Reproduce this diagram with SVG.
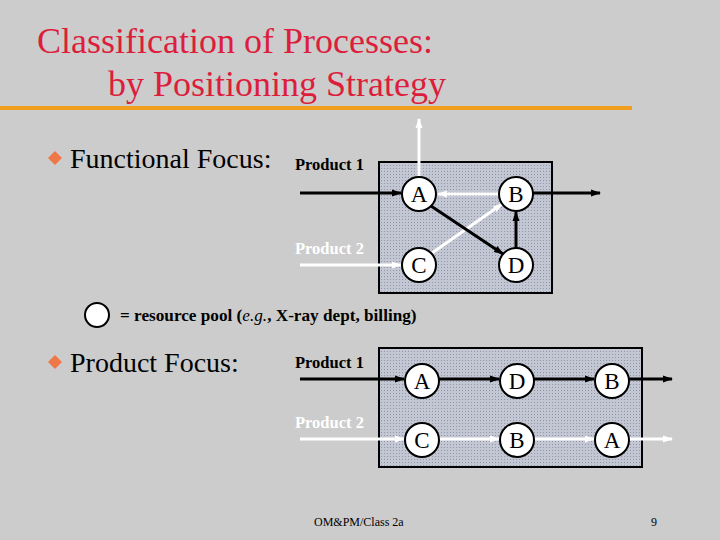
<svg xmlns="http://www.w3.org/2000/svg" width="720" height="540" viewBox="0 0 720 540" font-family="'Liberation Serif', serif">
<style>
.title{font-size:36px;fill:#dc1e3c}
.bul{font-size:28px;fill:#000}
.prod{font-size:16.5px;font-weight:bold}
.node circle{fill:#fff;stroke:#000;stroke-width:2}
.node text{font-size:23px;text-anchor:middle;fill:#000}
.box{fill:url(#dots);stroke:#000;stroke-width:2}
.blk{stroke:#000;stroke-width:3;fill:none}
.wht{stroke:#fff;stroke-width:3;fill:none}
.foot{font-size:12px;fill:#000}
</style>
<defs>
<pattern id="dots" width="3" height="3" patternUnits="userSpaceOnUse">
<rect width="3" height="3" fill="#c3c7d3"/>
<rect width="1" height="1" fill="#8f96a8"/>
</pattern>
<marker id="ab" markerWidth="10" markerHeight="8" refX="9" refY="4" orient="auto" markerUnits="userSpaceOnUse"><path d="M0,0.5 L10,4 L0,7.5 Z" fill="#000"/></marker>
<marker id="aw" markerWidth="10" markerHeight="8" refX="9" refY="4" orient="auto" markerUnits="userSpaceOnUse"><path d="M0,0.5 L10,4 L0,7.5 Z" fill="#fff"/></marker>
</defs>
<rect width="720" height="540" fill="#cccccc"/>
<text class="title" x="37" y="53" font-family="'Liberation Serif', serif">Classification of Processes:</text>
<text class="title" x="108" y="96" font-family="'Liberation Serif', serif">by Positioning Strategy</text>
<rect x="0" y="106" width="632" height="4" fill="#f0a01e"/>

<g id="bullet1">
<path d="M55,151 L62,158 L55,165 L48,158 Z" fill="#f07848"/>
<text class="bul" x="70" y="168" font-family="'Liberation Serif', serif">Functional Focus:</text>
</g>
<g id="bullet2">
<path d="M55,355 L62,362 L55,369 L48,362 Z" fill="#f07848"/>
<text class="bul" x="70" y="372" font-family="'Liberation Serif', serif">Product Focus:</text>
</g>

<g id="labels" font-family="'Liberation Serif', serif">
<text class="prod" x="295" y="170" fill="#000">Product 1</text>
<text class="prod" x="295" y="254" fill="#fff">Product 2</text>
<text class="prod" x="295" y="368" fill="#000">Product 1</text>
<text class="prod" x="295" y="428" fill="#fff">Product 2</text>
</g>

<rect id="box1" class="box" x="379" y="162" width="173" height="131"/>
<rect id="box2" class="box" x="379" y="348" width="263" height="119"/>

<g id="connectors">
<line class="blk" x1="300" y1="193" x2="401" y2="193" marker-end="url(#ab)"/>
<line class="wht" x1="300" y1="265" x2="401" y2="265" marker-end="url(#aw)"/>
<line class="wht" x1="419" y1="177" x2="419" y2="119" marker-end="url(#aw)"/>
<line class="wht" x1="499" y1="194" x2="438" y2="194" marker-end="url(#aw)"/>
<line class="wht" x1="432" y1="253" x2="502" y2="204" marker-end="url(#aw)"/>
<line class="blk" x1="431" y1="206" x2="503" y2="254" marker-end="url(#ab)"/>
<line class="blk" x1="516" y1="248" x2="516" y2="212" marker-end="url(#ab)"/>
<line class="blk" x1="533" y1="193" x2="600" y2="193" marker-end="url(#ab)"/>

<line class="blk" x1="300" y1="379" x2="404" y2="379" marker-end="url(#ab)"/>
<line class="blk" x1="439" y1="379" x2="499" y2="379" marker-end="url(#ab)"/>
<line class="blk" x1="534" y1="379" x2="594" y2="379" marker-end="url(#ab)"/>
<line class="blk" x1="629" y1="379" x2="672" y2="379" marker-end="url(#ab)"/>
<line class="wht" x1="300" y1="439" x2="404" y2="439" marker-end="url(#aw)"/>
<line class="wht" x1="439" y1="439" x2="499" y2="439" marker-end="url(#aw)"/>
<line class="wht" x1="534" y1="439" x2="594" y2="439" marker-end="url(#aw)"/>
<line class="wht" x1="629" y1="439" x2="672" y2="439" marker-end="url(#aw)"/>
</g>

<g font-family="'Liberation Serif', serif">
<g id="f-A" class="node"><circle cx="419" cy="194" r="17"/><text x="419" y="202">A</text></g>
<g id="f-B" class="node"><circle cx="516" cy="194" r="17"/><text x="516" y="202">B</text></g>
<g id="f-C" class="node"><circle cx="419" cy="265" r="17"/><text x="419" y="273">C</text></g>
<g id="f-D" class="node"><circle cx="516" cy="265" r="17"/><text x="516" y="273">D</text></g>

<g id="p-A1" class="node"><circle cx="422" cy="381" r="17"/><text x="422" y="389">A</text></g>
<g id="p-D1" class="node"><circle cx="517" cy="381" r="17"/><text x="517" y="389">D</text></g>
<g id="p-B1" class="node"><circle cx="612" cy="381" r="17"/><text x="612" y="389">B</text></g>
<g id="p-C2" class="node"><circle cx="422" cy="440" r="17"/><text x="422" y="448">C</text></g>
<g id="p-B2" class="node"><circle cx="517" cy="440" r="17"/><text x="517" y="448">B</text></g>
<g id="p-A2" class="node"><circle cx="612" cy="440" r="17"/><text x="612" y="448">A</text></g>
</g>

<g id="legend" font-family="'Liberation Serif', serif">
<circle cx="97" cy="315" r="12" fill="#fff" stroke="#000" stroke-width="2"/>
<text x="120" y="321" font-size="17.2" font-weight="bold" fill="#000">= resource pool (<tspan font-style="italic" font-weight="normal">e.g.</tspan>, X-ray dept, billing)</text>
</g>

<g font-family="'Liberation Serif', serif">
<text class="foot" x="314" y="526">OM&amp;PM/Class 2a</text>
<text class="foot" x="651" y="526">9</text>
</g>
</svg>
